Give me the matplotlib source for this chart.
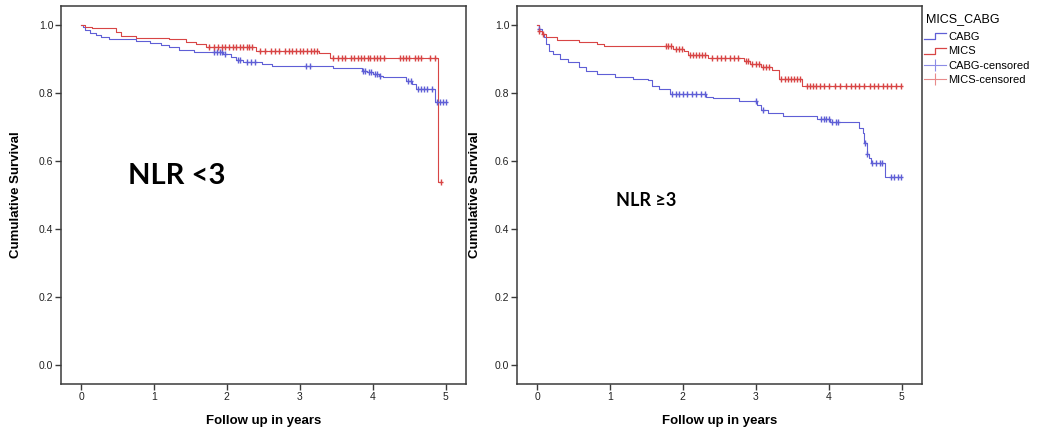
import numpy as np
import matplotlib
matplotlib.use("Agg")
import matplotlib.pyplot as plt
from matplotlib.lines import Line2D
from matplotlib.legend_handler import HandlerBase

plt.rcParams['font.family'] = ['Liberation Sans', 'DejaVu Sans']

# ---------------- data ----------------
# Panel 1: NLR < 3
p1_cabg_t = [0.02, 0.06, 0.12, 0.20, 0.28, 0.38, 0.75, 0.95, 1.10, 1.20, 1.35, 1.55,
             1.95, 2.05, 2.12, 2.22, 2.48, 2.62, 3.45, 3.85, 3.92, 4.00, 4.08, 4.14,
             4.46, 4.54, 4.60, 4.86]
p1_cabg_s = [0.993, 0.986, 0.978, 0.972, 0.965, 0.958, 0.953, 0.947, 0.940, 0.934, 0.928, 0.922,
             0.915, 0.905, 0.897, 0.890, 0.886, 0.879, 0.873, 0.866, 0.861, 0.856, 0.851, 0.846,
             0.836, 0.826, 0.813, 0.774]
p1_cabg_cens = [1.82, 1.86, 1.90, 1.93, 1.97, 2.15, 2.18, 2.28, 2.33, 2.38, 3.09, 3.14,
                3.87, 3.90, 3.95, 3.98, 4.03, 4.06, 4.10, 4.48, 4.52, 4.62, 4.66, 4.70,
                4.75, 4.82, 4.88, 4.92, 4.96, 5.00]
p1_mics_t = [0.05, 0.15, 0.48, 0.55, 0.75, 1.20, 1.44, 1.58, 1.72, 2.40, 3.27, 3.41, 4.90]
p1_mics_s = [0.995, 0.990, 0.979, 0.968, 0.963, 0.958, 0.951, 0.945, 0.936, 0.924, 0.917, 0.902, 0.539]
p1_mics_cens = [1.75, 1.82, 1.88, 1.93, 1.98, 2.03, 2.08, 2.13, 2.18, 2.22, 2.27, 2.31, 2.35,
                2.45, 2.52, 2.60, 2.66, 2.72, 2.80, 2.85, 2.90, 2.95, 3.00, 3.05, 3.10, 3.15,
                3.20, 3.24, 3.45, 3.52, 3.58, 3.62, 3.70, 3.75, 3.80, 3.84, 3.88, 3.93, 3.97,
                4.02, 4.06, 4.10, 4.15, 4.38, 4.42, 4.46, 4.50, 4.58, 4.62, 4.66, 4.78, 4.85,
                4.94]

# Panel 2: NLR >= 3
p2_cabg_t = [0.02, 0.07, 0.10, 0.12, 0.17, 0.22, 0.32, 0.42, 0.57, 0.67, 0.82, 1.07, 1.32,
             1.52, 1.57, 1.67, 1.82, 2.32, 2.42, 2.77, 3.02, 3.07, 3.17, 3.37, 3.84, 4.02,
             4.42, 4.47, 4.49, 4.52, 4.55, 4.58, 4.77]
p2_cabg_s = [0.988, 0.974, 0.964, 0.944, 0.925, 0.915, 0.900, 0.891, 0.876, 0.864, 0.855, 0.847,
             0.842, 0.837, 0.822, 0.813, 0.798, 0.788, 0.785, 0.778, 0.764, 0.749, 0.740, 0.732,
             0.723, 0.715, 0.696, 0.681, 0.652, 0.622, 0.608, 0.593, 0.554]
p2_cabg_cens = [0.03, 1.85, 1.90, 1.95, 2.00, 2.05, 2.12, 2.18, 2.25, 2.30, 3.00, 3.10,
                3.90, 3.93, 3.96, 4.00, 4.05, 4.10, 4.13, 4.50, 4.53, 4.60, 4.65, 4.70,
                4.73, 4.85, 4.90, 4.95, 4.99]
p2_mics_t = [0.02, 0.07, 0.12, 0.27, 0.57, 0.82, 0.92, 1.87, 2.02, 2.07, 2.35, 2.84, 2.92,
             3.07, 3.22, 3.32, 3.64]
p2_mics_s = [0.983, 0.974, 0.966, 0.956, 0.951, 0.944, 0.938, 0.930, 0.923, 0.913, 0.903, 0.893,
             0.884, 0.876, 0.868, 0.842, 0.820]
p2_mics_cens = [0.03, 0.08, 1.77, 1.80, 1.84, 1.90, 1.95, 1.99, 2.10, 2.14, 2.18, 2.22, 2.26,
                2.30, 2.40, 2.47, 2.52, 2.58, 2.64, 2.70, 2.76, 2.86, 2.90, 2.95, 3.00, 3.04,
                3.10, 3.14, 3.18, 3.35, 3.40, 3.44, 3.48, 3.52, 3.56, 3.60, 3.70, 3.75, 3.78,
                3.82, 3.88, 3.94, 4.00, 4.08, 4.16, 4.24, 4.30, 4.36, 4.42, 4.48, 4.56, 4.62,
                4.68, 4.74, 4.80, 4.86, 4.92, 4.99]

panel_titles = ["NLR <3", "NLR \u22653"]
x_ticks = [0, 1, 2, 3, 4, 5]
y_ticks = [0.0, 0.2, 0.4, 0.6, 0.8, 1.0]
legend_title = "MICS_CABG"
legend_labels = ["CABG", "MICS", "CABG-censored", "MICS-censored"]

BLUE = "#5f5fd6"
RED = "#d84545"
SPINE = "#3a3a3a"


def surv_at(times, surv, t):
    idx = np.searchsorted(np.asarray(times), np.asarray(t), side='right')
    vals = np.r_[1.0, surv]
    return vals[idx]


def draw_km(ax, times, surv, cens, color):
    t_end = max(max(cens), max(times))
    xs = np.r_[0.0, times, t_end]
    ys = np.r_[1.0, surv, surv[-1]]
    ax.step(xs, ys, where='post', color=color, lw=0.8, zorder=3)
    cy = surv_at(times, surv, cens)
    ax.plot(cens, cy, linestyle='none', marker='|',
            markersize=4.5, markeredgewidth=1.0, color=color, zorder=4)
    ax.plot(cens, cy, linestyle='none', marker='_',
            markersize=3.5, markeredgewidth=1.0, color=color, zorder=4)


fig = plt.figure(figsize=(10.4, 4.42), dpi=100)
W, H = 1040, 442
ax_h = (384 - 6) / H
ax1 = fig.add_axes([61 / W, 1 - 384 / H, 405 / W, ax_h])
ax2 = fig.add_axes([517 / W, 1 - 384 / H, 405 / W, ax_h])

panels = [
    (ax1, p1_cabg_t, p1_cabg_s, p1_cabg_cens, p1_mics_t, p1_mics_s, p1_mics_cens),
    (ax2, p2_cabg_t, p2_cabg_s, p2_cabg_cens, p2_mics_t, p2_mics_s, p2_mics_cens),
]

for ax, ct, cs, cc, mt, ms, mc in panels:
    draw_km(ax, ct, cs, cc, BLUE)
    draw_km(ax, mt, ms, mc, RED)
    ax.set_xlim(-0.275, 5.28)
    ax.set_ylim(-0.056, 1.056)
    ax.set_xticks(x_ticks)
    ax.set_xticklabels([str(v) for v in x_ticks])
    ax.set_yticks(y_ticks)
    ax.set_yticklabels([f"{v:.1f}" for v in y_ticks])
    for s in ax.spines.values():
        s.set_color(SPINE)
        s.set_linewidth(1.1)
    ax.tick_params(direction='out', length=4, width=1.0, color=SPINE,
                   labelsize=7.5, labelcolor='#222222', pad=1.5)
    ax.text(0.5, -0.098, "Follow up in years", transform=ax.transAxes,
            ha='center', va='center', fontsize=9.5, fontweight='bold')
    ax.set_ylabel("Cumulative Survival", fontsize=9.5, fontweight='bold')

ax1.yaxis.set_label_coords(-0.096, 0.5)
ax2.yaxis.set_label_coords(-0.089, 0.5)

fig.text(177 / W, 1 - 176 / H, panel_titles[0], ha='center', va='center',
         fontsize=21, fontweight='bold', family=['Lato', 'DejaVu Sans'])
fig.text(646 / W, 1 - 201 / H, panel_titles[1], ha='center', va='center',
         fontsize=13, fontweight='bold', family=['Lato', 'DejaVu Sans'])


class StepHandler(HandlerBase):
    def create_artists(self, legend, orig_handle, xdescent, ydescent, width, height,
                       fontsize, trans):
        x0, x1 = -xdescent, -xdescent + width
        yl, yh = -ydescent + 0.1 * height, -ydescent + 0.85 * height
        xm = x0 + 0.5 * width
        line = Line2D([x0, xm, xm, x1], [yl, yl, yh, yh], color=orig_handle.get_color(),
                      lw=0.9, transform=trans)
        return [line]


h_cabg = Line2D([], [], color=BLUE)
h_mics = Line2D([], [], color=RED)
h_cabg_c = Line2D([], [], color="#8c8ce6", lw=0.8, marker='|', markersize=9,
                  markeredgewidth=0.8)
h_mics_c = Line2D([], [], color="#e88a8a", lw=0.8, marker='|', markersize=9,
                  markeredgewidth=0.8)

fig.text(926 / W, 1 - 19 / H, legend_title, ha='left', va='center', fontsize=9)

leg = fig.legend([h_cabg, h_mics, h_cabg_c, h_mics_c], legend_labels,
                 loc='upper left',
                 bbox_to_anchor=(924 / W, 1 - 32 / H), frameon=False,
                 fontsize=8, handlelength=2.0,
                 handletextpad=0.2, labelspacing=0.4, borderpad=0,
                 borderaxespad=0, numpoints=1,
                 handler_map={h_cabg: StepHandler(), h_mics: StepHandler()})

fig.savefig("out.png", dpi=100)
